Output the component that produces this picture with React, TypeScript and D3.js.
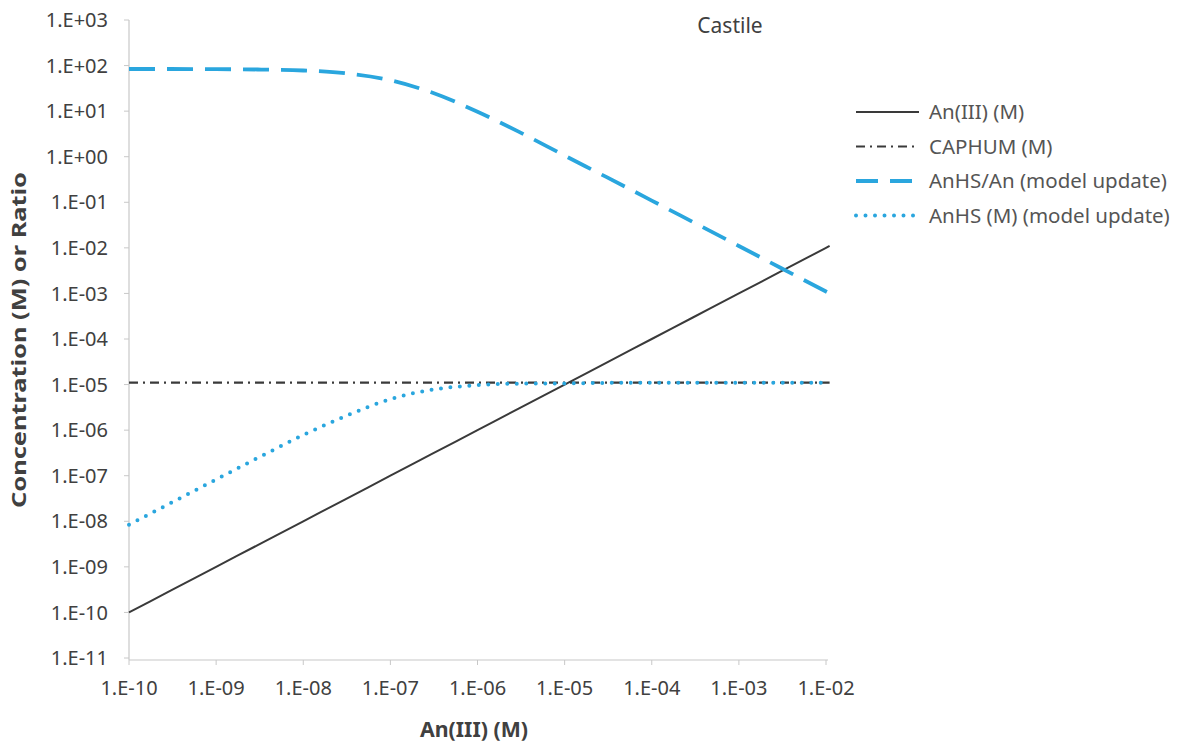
import React from "react";
import * as d3 from "d3";

const anX = [1e-10, 3e-10, 1e-9, 3e-9, 1e-8, 3e-8, 1e-7, 3e-7, 1e-6, 3e-6, 1e-5, 3e-5, 1e-4, 3e-4, 1e-3, 3e-3, 1e-2, 1.1e-2];
const anIII = [1e-10, 3e-10, 1e-9, 3e-9, 1e-8, 3e-8, 1e-7, 3e-7, 1e-6, 3e-6, 1e-5, 3e-5, 1e-4, 3e-4, 1e-3, 3e-3, 1e-2, 1.1e-2];
const caphum = [1.1e-5, 1.1e-5, 1.1e-5, 1.1e-5, 1.1e-5, 1.1e-5, 1.1e-5, 1.1e-5, 1.1e-5, 1.1e-5, 1.1e-5, 1.1e-5, 1.1e-5, 1.1e-5, 1.1e-5, 1.1e-5, 1.1e-5, 1.1e-5];
const anhsRatio = [84, 84, 83.4, 82, 78, 68, 47.7, 25.6, 9.7, 3.5, 1.06, 0.36, 0.109, 0.0365, 0.011, 0.00366, 0.0011, 0.001];
const anhs = [8.4e-9, 2.5e-8, 8.3e-8, 2.45e-7, 7.8e-7, 2.0e-6, 4.8e-6, 7.7e-6, 9.7e-6, 1.05e-5, 1.06e-5, 1.09e-5, 1.1e-5, 1.1e-5, 1.1e-5, 1.1e-5, 1.1e-5, 1.1e-5];

const xTicks = [1e-10, 1e-9, 1e-8, 1e-7, 1e-6, 1e-5, 1e-4, 1e-3, 1e-2];
const yTicks = [1e3, 1e2, 1e1, 1e0, 1e-1, 1e-2, 1e-3, 1e-4, 1e-5, 1e-6, 1e-7, 1e-8, 1e-9, 1e-10, 1e-11];

const seriesNames = ["An(III) (M)", "CAPHUM (M)", "AnHS/An (model update)", "AnHS (M) (model update)"];
const title = "Castile";
const xTitle = "An(III) (M)";
const yTitle = "Concentration (M) or Ratio";

const fmt = (v: number) => {
  const e = Math.round(Math.log10(v));
  const s = e < 0 ? "-" : "+";
  return `1.E${s}${String(Math.abs(e)).padStart(2, "0")}`;
};

export default function App() {
  const x = d3.scaleLog().domain([1e-10, 1e-2]).range([129, 826]);
  const y = d3.scaleLog().domain([1e-11, 1e3]).range([658, 20]);
  const font = "'Noto Sans', 'Open Sans', sans-serif";
  const blue = "#2aa6de";
  const dark = "#3a3a3a";
  const mk = (vals: number[]) =>
    d3
      .line<number>()
      .x((_, i) => x(anX[i]))
      .y((d) => y(d))
      .curve(d3.curveMonotoneX)(vals) as string;

  const series = [
    { name: seriesNames[0], vals: anIII, stroke: dark, w: 2, dash: undefined, cap: "butt" },
    { name: seriesNames[1], vals: caphum, stroke: dark, w: 2.2, dash: "9,5,2,5", cap: "butt" },
    { name: seriesNames[2], vals: anhsRatio, stroke: blue, w: 3.8, dash: "26,12", cap: "butt" },
    { name: seriesNames[3], vals: anhs, stroke: blue, w: 4, dash: "0,9.5", cap: "round" },
  ];

  return (
    <svg width={1182} height={742} style={{ position: "absolute", left: 0, top: 0, background: "#fff" }}>
      <rect width={1182} height={742} fill="#fff" />
      <line x1={129} x2={129} y1={20} y2={660} stroke="#c8c8c8" strokeWidth={1.2} />
      <line x1={129} x2={828} y1={660} y2={660} stroke="#c8c8c8" strokeWidth={1.2} />
      {yTicks.map((t) => (
        <g key={"y" + t}>
          <line x1={124} x2={129} y1={y(t)} y2={y(t)} stroke="#c8c8c8" />
          <text x={108} y={y(t)} dy="0.36em" textAnchor="end" fontFamily={font} fontSize={20} fill="#404040">
            {fmt(t)}
          </text>
        </g>
      ))}
      {xTicks.map((t) => (
        <g key={"x" + t}>
          <line x1={x(t)} x2={x(t)} y1={660} y2={665} stroke="#c8c8c8" />
          <text x={x(t)} y={695} textAnchor="middle" fontFamily={font} fontSize={20} fill="#404040">
            {fmt(t)}
          </text>
        </g>
      ))}
      {series.map((s) => (
        <path
          key={s.name}
          d={mk(s.vals)}
          fill="none"
          stroke={s.stroke}
          strokeWidth={s.w}
          strokeDasharray={s.dash}
          strokeLinecap={s.cap as any}
        />
      ))}
      <text x={730} y={33} textAnchor="middle" fontFamily={font} fontSize={21} fill="#404040">
        {title}
      </text>
      <text
        x={474}
        y={737}
        textAnchor="middle"
        fontFamily={font}
        fontSize={21}
        fontWeight="bold"
        fill="#404040"
        textLength={108}
        lengthAdjust="spacingAndGlyphs"
      >
        {xTitle}
      </text>
      <text
        transform="translate(26,340) rotate(-90)"
        textAnchor="middle"
        fontFamily={font}
        fontSize={20}
        fontWeight="bold"
        fill="#404040"
        textLength={336}
        lengthAdjust="spacingAndGlyphs"
      >
        {yTitle}
      </text>
      {series.map((s, i) => {
        const ly = 112 + i * 34.5;
        return (
          <g key={"lg" + i}>
            <line
              x1={856}
              x2={919}
              y1={ly}
              y2={ly}
              stroke={s.stroke}
              strokeWidth={s.w}
              strokeDasharray={s.dash === "26,12" ? "22,12" : s.dash}
              strokeLinecap={s.cap as any}
            />
            <text x={929} y={ly} dy="0.36em" fontFamily={font} fontSize={20.5} fill="#555">
              {s.name}
            </text>
          </g>
        );
      })}
    </svg>
  );
}
